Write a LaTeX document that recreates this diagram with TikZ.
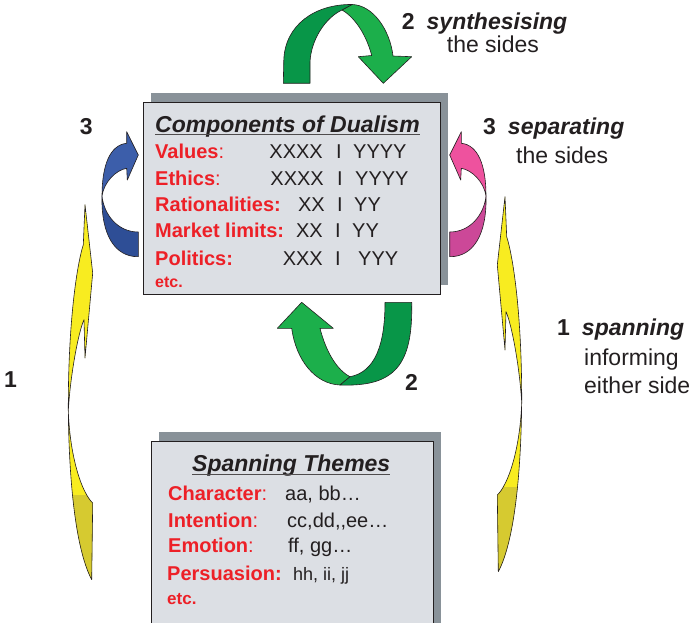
\documentclass[tikz,border=0pt]{standalone}
\usepackage{fontspec}
\setmainfont{Liberation Sans}
\definecolor{boxfill}{RGB}{220,223,228}
\definecolor{shadowc}{RGB}{137,146,153}
\definecolor{redlab}{RGB}{237,32,39}
\definecolor{txt}{RGB}{35,31,32}
\definecolor{gdark}{RGB}{8,150,72}
\definecolor{glight}{RGB}{28,175,75}
\definecolor{bup}{RGB}{60,94,170}
\definecolor{blo}{RGB}{46,78,150}
\definecolor{pup}{RGB}{238,82,158}
\definecolor{plo}{RGB}{204,72,152}
\definecolor{yel}{RGB}{248,236,32}
\definecolor{olive}{RGB}{214,202,48}
\begin{document}
\begin{tikzpicture}[x=1pt,y=-1pt,
  box/.style={draw=txt, line width=0.9pt, fill=boxfill, inner sep=0pt},
  ardraw/.style={draw=txt, line width=0.6pt, line join=round},
  ttl/.style={inner sep=0pt, anchor=base west, text=txt, font=\fontsize{23}{23}\selectfont\bfseries\itshape},
  ul/.style={draw=txt!80, line width=1.4pt},
  rl/.style={inner sep=0pt, anchor=base west, text=redlab, font=\fontsize{20}{20}\selectfont\bfseries},
  vl/.style={inner sep=0pt, text=txt, font=\fontsize{20}{20}\selectfont},
  lbl/.style={inner sep=0pt, anchor=base west, text=txt, font=\fontsize{23}{23}\selectfont},
  pics/curl/.style 2 args={code={
    \path[ardraw, fill=#1] (138.3,155) -- (127.3,180) -- (126.7,168.3) .. controls (116,170) and (104,182) .. (102,196) .. controls (102,165) and (110,145) .. (126.7,143.3) -- (126.7,131.7) -- cycle;
    \path[ardraw, fill=#2] (102,196) .. controls (101,235) and (115,257) .. (138.3,256.7) -- (138.3,232) .. controls (118,232) and (104,215) .. (102,196) -- cycle;
  }},
  pics/spanarrow/.style={code={
    \path[ardraw, fill=yel] (505,196.7) -- (506.7,236.7) .. controls (514,260) and (522,320) .. (521.7,403) .. controls (520,370) and (512,325) .. (506,311.7) -- (505,350) -- (497.3,265) -- cycle;
    \fill[yel] (521.7,403) .. controls (521,470) and (515,540) .. (498.3,571.7) -- (497.3,495) .. controls (508,485) and (520,450) .. (521.7,403) -- cycle;
    \begin{scope}
      \clip (480,487) rectangle (540,600);
      \fill[olive] (521.7,403) .. controls (521,470) and (515,540) .. (498.3,571.7) -- (497.3,495) .. controls (508,485) and (520,450) .. (521.7,403) -- cycle;
    \end{scope}
    \path[ardraw] (521.7,403) .. controls (521,470) and (515,540) .. (498.3,571.7) -- (497.3,495) .. controls (508,485) and (520,450) .. (521.7,403) -- cycle;
  }}
]
\useasboundingbox (0,0) rectangle (693,623);
\clip (0,0) rectangle (693,623);

% boxes with shadows
\fill[shadowc] (151,93) rectangle (448,285);
\node[box, minimum width=297pt, minimum height=192pt] (main) at (291.5,198) {};
\fill[shadowc] (159,432) rectangle (441,640);
\node[box, minimum width=282pt, minimum height=200pt] (span) at (292,541) {};

% top green arrow (synthesising)
\path[ardraw, fill=glight] (352,4.5) .. controls (373,5) and (390,30) .. (393,56) -- (411.7,56.7) -- (383.3,83.3) -- (358.3,56.7) -- (371.7,55.5) .. controls (367,37) and (356,18) .. (342,10) -- cycle;
\path[ardraw, fill=gdark] (283.3,83.3) -- (283.8,60) .. controls (285,25) and (315,4) .. (352,4.5) -- (342,10) .. controls (325,18) and (311,40) .. (310,62) -- (310,83.3) -- cycle;

% bottom green arrow
\path[ardraw, fill=glight] (340,385) .. controls (315,384) and (296,360) .. (291.7,328.3) -- (277.3,328.3) -- (301.7,302.3) -- (333.3,328.3) -- (320,328.3) .. controls (326,352) and (337,370) .. (350,376.7) -- cycle;
\path[ardraw, fill=gdark] (385,302.3) -- (411.7,302.3) .. controls (413,365) and (395,387) .. (340,385) -- (350,376.7) .. controls (375,372) and (385,345) .. (385,302.3) -- cycle;

% blue and pink curls
\pic (bluearr) at (0,0) {curl={bup}{blo}};
\pic[xscale=-1] (pinkarr) at (588,0) {curl={pup}{plo}};

% yellow spanning arrows
\pic (yright) at (0,0) {spanarrow};
\pic[xscale=-1] (yleft) at (590,8) {spanarrow};

% main box text
\node[ttl] (t1) at (155,132) {Components of Dualism};
\draw[ul] ([yshift=-2.5pt]t1.base west) -- ([yshift=-2.5pt]t1.base east);

\node[rl] (l1) at (155,158) {Values\mdseries:};
\node[vl, anchor=base east] (x1) at (323,158) {XXXX};
\node[vl, anchor=base] (s1) at (339,158) {I};
\node[vl, anchor=base west] (y1) at (353,158) {YYYY};

\node[rl] (l2) at (155,185) {Ethics\mdseries:};
\node[vl, anchor=base east] (x2) at (324,185) {XXXX};
\node[vl, anchor=base] (s2) at (340,185) {I};
\node[vl, anchor=base west] (y2) at (355,185) {YYYY};

\node[rl] (l3) at (155,211) {Rationalities:};
\node[vl, anchor=base east] (x3) at (325,211) {XX};
\node[vl, anchor=base] (s3) at (340,211) {I};
\node[vl, anchor=base west] (y3) at (354,211) {YY};

\node[rl] (l4) at (155,237) {Market limits:};
\node[vl, anchor=base east] (x4) at (323,237) {XX};
\node[vl, anchor=base] (s4) at (338,237) {I};
\node[vl, anchor=base west] (y4) at (352,237) {YY};

\node[rl] (l5) at (155,265) {Politics:};
\node[vl, anchor=base east] (x5) at (323,265) {XXX};
\node[vl, anchor=base] (s5) at (338,265) {I};
\node[vl, anchor=base west] (y5) at (358,265) {YYY};

\node[rl, font=\fontsize{16}{16}\selectfont\bfseries] (etc1) at (155,287) {etc.};

% spanning box text
\node[ttl] (t2) at (192,471) {Spanning Themes};
\draw[ul] ([yshift=-3.5pt]t2.base west) -- ([yshift=-3.5pt]t2.base east);

\node[rl] (c1) at (168,500) {Character\mdseries:};
\node[vl, anchor=base west] (c2) at (285,500) {aa, bb…};
\node[rl] (i1) at (168,527) {Intention\mdseries:};
\node[vl, anchor=base west] (i2) at (287,527) {cc,dd,\kern0pt,ee…};
\node[rl] (e1) at (168,552) {Emotion\mdseries:};
\node[vl, anchor=base west] (e2) at (288,552) {ff, gg…};
\node[rl] (p1) at (167,580) {Persuasion:};
\node[vl, anchor=base west, font=\fontsize{18}{18}\selectfont] (p2) at (293,580) {hh, ii, jj};
\node[rl, font=\fontsize{17}{17}\selectfont\bfseries] (etc2) at (167,604) {etc.};

% outside labels
\node[lbl] (n2top) at (401.7,30) {\textbf{2}\hspace{12pt}\textbf{\textit{synthesising}}};
\node[lbl] (sides1) at (446.7,53) {the sides};
\node[lbl] (n3r) at (483,135) {\textbf{3}\hspace{12pt}\textbf{\textit{separating}}};
\node[lbl] (sides2) at (516,163) {the sides};
\node[lbl] (n3l) at (79.7,135) {\textbf{3}};
\node[lbl] (n1l) at (4,387) {\textbf{1}};
\node[lbl] (n2b) at (405,390) {\textbf{2}};
\node[lbl] (n1r) at (557,335) {\textbf{1}\hspace{12pt}\textbf{\textit{spanning}}};
\node[lbl] (inf) at (584,365) {informing};
\node[lbl] (eith) at (584,393) {either side};
\end{tikzpicture}
\end{document}
